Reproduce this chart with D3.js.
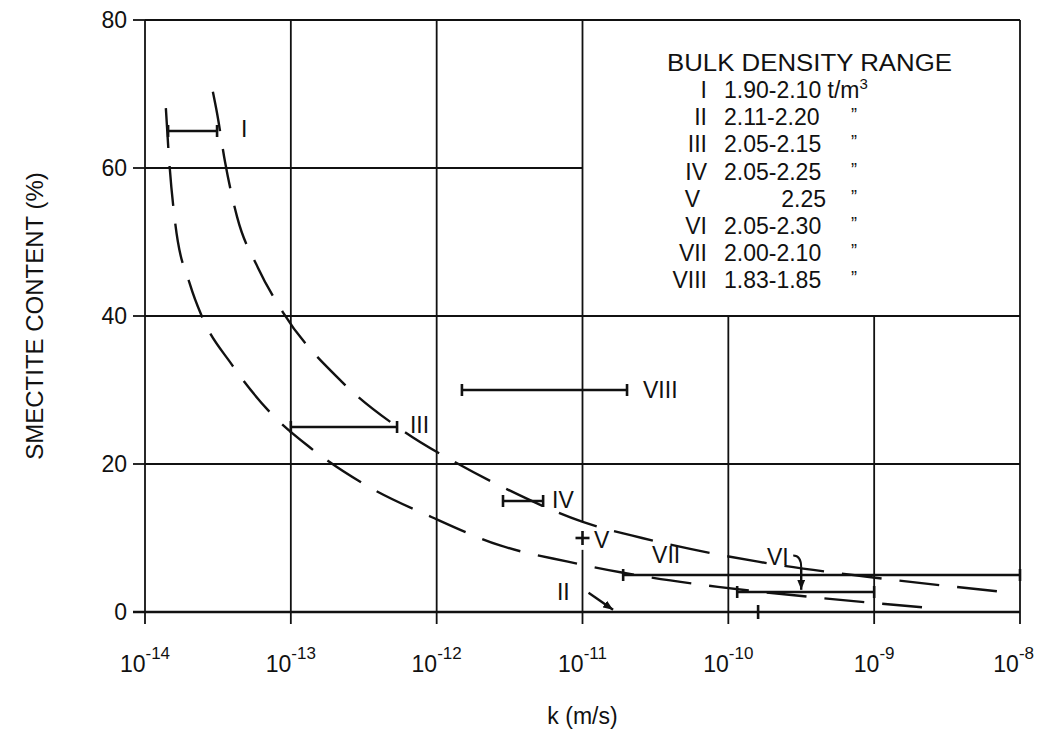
<!DOCTYPE html>
<html>
<head>
<meta charset="utf-8">
<script src="https://cdn.jsdelivr.net/npm/d3@7"></script>
<style>
  body { margin: 0; background: #fff; }
  svg { display: block; }
  text { font-family: "Liberation Sans", Arial, Helvetica, sans-serif; fill: #111; }
</style>
</head>
<body>
<script>
// axis ticks
const decades = [-14, -13, -12, -11, -10, -9, -8];
const pctTicks = [0, 20, 40, 60, 80];

// measured ranges: k (m/s) low/high at a smectite content (%)
const barNames = ["I", "III", "IV", "VIII", "VII", "VI"];
const barKLow  = [1.44e-14, 1.0e-13, 2.85e-12, 1.49e-12, 1.9e-11, 1.15e-10];
const barKHigh = [3.12e-14, 5.35e-13, 5.37e-12, 2.02e-11, 1.0e-8, 1.0e-9];
const barPct   = [65, 25, 15, 30, 5, 2.7];

// single points
const pointK   = [1e-11, 1.6e-10];
const pointPct = [10, 0];

// dashed envelope curves
const lowerK   = [1.39e-14, 1.46e-14, 1.61e-14, 2.04e-14, 2.46e-14, 3.95e-14, 7.19e-14, 1.36e-13,
                  3.23e-13, 9.29e-13, 2.72e-12, 7.94e-12, 1.9e-11, 8.49e-11, 3.81e-10, 2.54e-9];
const lowerPct = [68.1, 61.4, 52.6, 44.2, 39.9, 33.4, 27.0, 22.2, 17.2, 12.8, 9.0, 6.8, 5.3, 3.4, 2.0, 0.5];
const upperK   = [2.92e-14, 3.12e-14, 3.54e-14, 4.28e-14, 5.96e-14, 8.83e-14, 2.24e-13, 6.07e-13,
                  1.38e-12, 3.03e-12, 9.93e-12, 2.56e-11, 1.6e-10, 1.05e-9, 7.89e-9];
const upperPct = [70.3, 67.4, 60.8, 53.4, 46.5, 40.5, 31.1, 24.3, 20.1, 16.6, 12.2, 10.0, 6.8, 4.6, 2.7];

// labels (left edge, baseline) in data coordinates
const labelText = ["I", "III", "IV", "VIII", "VII", "VI", "V", "II"];
const labelK    = [4.55e-14, 6.56e-13, 6.18e-12, 2.6e-11, 3.0e-11, 1.84e-10, 1.2e-11, 6.68e-12];
const labelPct  = [64.2, 24.2, 14.05, 28.9, 6.6, 6.35, 8.65, 1.6];

// pointer arrows
const arrowFromK   = [3.16e-10, 1.1e-11];
const arrowFromPct = [6.0, 2.6];
const arrowToK     = [3.16e-10, 1.62e-11];
const arrowToPct   = [3.0, 0.3];

// legend
const legendTitle = "BULK DENSITY RANGE";
const legendNumerals = ["I", "II", "III", "IV", "V", "VI", "VII", "VIII"];
const legendDensity = ["1.90-2.10", "2.11-2.20", "2.05-2.15", "2.05-2.25", "2.25", "2.05-2.30", "2.00-2.10", "1.83-1.85"];

const W = 1038, H = 729;
const x = d3.scaleLog().domain([1e-14, 1e-8]).range([145, 1020]);
const y = d3.scaleLinear().domain([0, 80]).range([612, 20]);
const FS = 23;

const svg = d3.select("body").append("svg")
    .attr("width", W)
    .attr("height", H);

svg.append("rect").attr("width", W).attr("height", H).attr("fill", "#fff");

svg.append("defs").append("marker")
    .attr("id", "head")
    .attr("markerWidth", 10)
    .attr("markerHeight", 8)
    .attr("refX", 10)
    .attr("refY", 4)
    .attr("orient", "auto")
    .attr("markerUnits", "userSpaceOnUse")
    .append("polygon")
    .attr("points", "0 0, 10 4, 0 8")
    .attr("fill", "#111");

const grid = svg.append("g").attr("stroke", "#111").attr("stroke-width", 1.8);

// horizontal gridlines (60% stops at the legend box)
pctTicks.filter(p => p > 0).forEach(p => {
    const xEnd = p === 60 ? x(1e-11) : x(1e-8);
    grid.append("line")
        .attr("x1", x(1e-14)).attr("x2", xEnd)
        .attr("y1", y(p)).attr("y2", y(p));
});

// vertical gridlines
decades.forEach(d => {
    const k = Math.pow(10, d);
    const top = (d === -10 || d === -9) ? 40 : 80;
    if (d === -11) {
        // gap around the "+V" point
        grid.append("line").attr("x1", x(k)).attr("x2", x(k)).attr("y1", y(80)).attr("y2", y(12.2));
        grid.append("line").attr("x1", x(k)).attr("x2", x(k)).attr("y1", y(8.4)).attr("y2", y(0) + 12);
    } else {
        grid.append("line").attr("x1", x(k)).attr("x2", x(k)).attr("y1", y(top)).attr("y2", y(0) + 12);
    }
});

// y ticks
pctTicks.forEach(p => {
    grid.append("line").attr("x1", x(1e-14) - 12).attr("x2", x(1e-14)).attr("y1", y(p)).attr("y2", y(p));
});

// zero line is heavier
svg.append("line")
    .attr("x1", x(1e-14) - 12).attr("x2", x(1e-8))
    .attr("y1", y(0)).attr("y2", y(0))
    .attr("stroke", "#111").attr("stroke-width", 2.6);

// tick labels
pctTicks.forEach(p => {
    svg.append("text")
        .attr("x", x(1e-14) - 18)
        .attr("y", y(p) + 8)
        .attr("text-anchor", "end")
        .style("font-size", FS + "px")
        .text(p);
});

decades.forEach((d, i) => {
    const last = i === decades.length - 1;
    const t = svg.append("text")
        .attr("x", last ? W - 4 : x(Math.pow(10, d)))
        .attr("y", 672)
        .attr("text-anchor", last ? "end" : "middle")
        .style("font-size", FS + "px");
    t.append("tspan").text("10");
    t.append("tspan")
        .attr("dy", -13)
        .style("font-size", "17px")
        .text(String(d));
});

svg.append("text")
    .attr("x", x(1e-11))
    .attr("y", 724)
    .attr("text-anchor", "middle")
    .style("font-size", FS + "px")
    .text("k (m/s)");

svg.append("text")
    .attr("transform", "translate(43,316) rotate(-90)")
    .attr("text-anchor", "middle")
    .style("font-size", "24px")
    .text("SMECTITE CONTENT (%)");

// dashed curves
const line = d3.line()
    .x(d => x(d[0]))
    .y(d => y(d[1]))
    .curve(d3.curveMonotoneX);

[[lowerK, lowerPct], [upperK, upperPct]].forEach(([ks, ps]) => {
    svg.append("path")
        .datum(ks.map((k, i) => [k, ps[i]]))
        .attr("d", line)
        .attr("fill", "none")
        .attr("stroke", "#111")
        .attr("stroke-width", 2.4)
        .attr("stroke-dasharray", "40,18");
});

// range bars with end caps
const bars = svg.append("g").attr("stroke", "#111").attr("stroke-width", 2.6);
barNames.forEach((n, i) => {
    const yy = y(barPct[i]);
    bars.append("line")
        .attr("x1", x(barKLow[i])).attr("x2", x(barKHigh[i]))
        .attr("y1", yy).attr("y2", yy);
    [barKLow[i], barKHigh[i]].forEach(k => {
        bars.append("line")
            .attr("x1", x(k)).attr("x2", x(k))
            .attr("y1", yy - 6).attr("y2", yy + 6);
    });
});

// single points as small crosses
pointK.forEach((k, i) => {
    const px = x(k), py = y(pointPct[i]);
    bars.append("line").attr("x1", px).attr("x2", px).attr("y1", py - 7).attr("y2", py + 7);
    if (pointPct[i] > 0) {
        bars.append("line").attr("x1", px - 7).attr("x2", px + 7).attr("y1", py).attr("y2", py);
    }
});

// arrows
arrowFromK.forEach((k, i) => {
    svg.append("line")
        .attr("x1", x(k)).attr("y1", y(arrowFromPct[i]))
        .attr("x2", x(arrowToK[i])).attr("y2", y(arrowToPct[i]))
        .attr("stroke", "#111")
        .attr("stroke-width", 2.4)
        .attr("marker-end", "url(#head)");
});

// little hook on the VI pointer
const hx = x(arrowFromK[0]), hy = y(arrowFromPct[0]);
svg.append("path")
    .attr("d", `M${hx - 8},${hy - 12} Q${hx},${hy - 12} ${hx},${hy}`)
    .attr("fill", "none")
    .attr("stroke", "#111")
    .attr("stroke-width", 2);

// data labels
labelText.forEach((t, i) => {
    svg.append("text")
        .attr("x", x(labelK[i]))
        .attr("y", y(labelPct[i]))
        .style("font-size", FS + "px")
        .text(t);
});

// legend
const lg = svg.append("g");
lg.append("text")
    .attr("x", 667)
    .attr("y", 71)
    .attr("textLength", 285)
    .attr("lengthAdjust", "spacingAndGlyphs")
    .style("font-size", FS + "px")
    .text(legendTitle);

legendNumerals.forEach((n, i) => {
    const by = 98 + i * 27.2;
    lg.append("text")
        .attr("x", n === "V" ? 700 : 707)
        .attr("y", by)
        .attr("text-anchor", "end")
        .style("font-size", FS + "px")
        .text(n);
    const dens = lg.append("text")
        .attr("x", n === "V" ? 826 : 724)
        .attr("y", by)
        .attr("text-anchor", n === "V" ? "end" : "start")
        .style("font-size", FS + "px")
        .text(legendDensity[i]);
    if (i === 0) {
        dens.append("tspan").text(" t/m");
        dens.append("tspan").attr("dy", -9).style("font-size", "15px").text("3");
    } else {
        lg.append("text")
            .attr("x", 854)
            .attr("y", by - 4)
            .attr("text-anchor", "middle")
            .style("font-size", "18px")
            .text("\u201D");
    }
});
</script>
</body>
</html>
